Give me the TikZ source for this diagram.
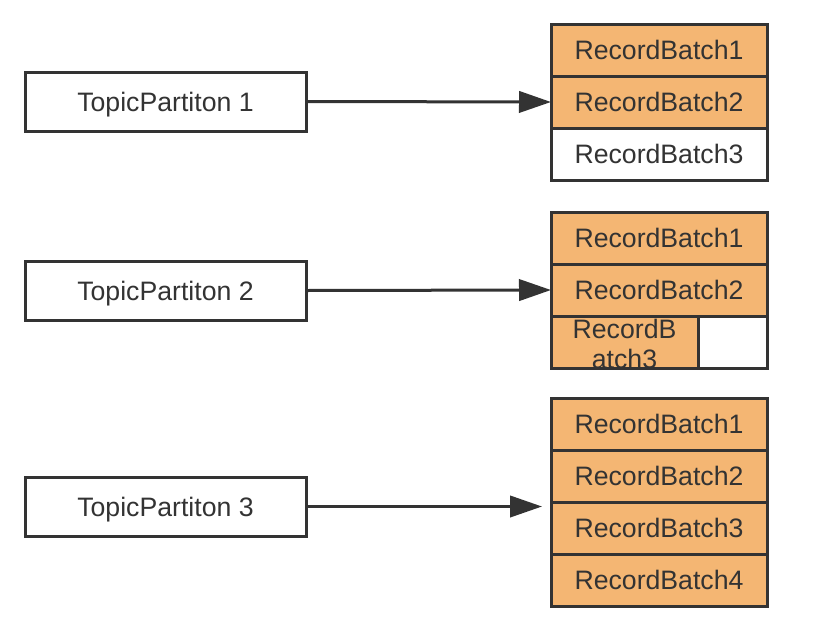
\documentclass[tikz,border=0pt]{standalone}
\usepackage{fontspec}
\setmainfont{Liberation Sans}
\usetikzlibrary{arrows.meta}
\definecolor{ink}{HTML}{333333}
\definecolor{batch}{HTML}{F4B673}
\begin{document}
\begin{tikzpicture}[x=0.75pt,y=-0.75pt,
  every node/.style={font=\fontsize{20}{22}\selectfont, text=ink, inner sep=0pt, outer sep=0pt},
  onel/.style={text height=14.5pt, text depth=0pt},
  topicbox/.style={onel, draw=ink, line width=2.25pt, minimum width=210.75pt, minimum height=44.25pt, fill=white},
  cellfull/.style={onel, draw=ink, line width=2.25pt, minimum width=162pt, minimum height=39pt},
  filled/.style={fill=batch},
  empty/.style={fill=white},
  conn/.style={draw=ink, line width=2.25pt, -{Triangle[length=24pt,width=16pt]}}
]
\useasboundingbox (0,0) rectangle (832,636);

% topic partitions
\node[topicbox] (t1) at (165.5,101.5) {TopicPartiton 1};
\node[topicbox] (t2) at (165.5,290.5) {TopicPartiton 2};
\node[topicbox] (t3) at (165.5,506.5) {TopicPartiton 3};

% stack 1
\node[cellfull,filled] (a1) at (659,50) {RecordBatch1};
\node[cellfull,filled] (a2) at (659,102) {RecordBatch2};
\node[cellfull,empty] (a3) at (659,154) {RecordBatch3};

% stack 2
\node[cellfull,filled] (b1) at (659,238) {RecordBatch1};
\node[cellfull,filled] (b2) at (659,290) {RecordBatch2};
\node[minimum width=110.25pt, minimum height=39pt, filled] (b3) at (624.5,342) {};
\node[minimum width=51.75pt, minimum height=39pt, empty] (b4) at (732.5,342) {};
\begin{scope}
  \clip (b3.south west) rectangle (b3.north east);
  \node[align=center] (b3t) at (624.5,344) {RecordB\\atch3};
\end{scope}
\draw[ink, line width=2.25pt] (b3.south west) rectangle (b3.north east);
\draw[ink, line width=2.25pt] (b4.south west) rectangle (b4.north east);

% stack 3
\node[cellfull,filled] (c1) at (659,424) {RecordBatch1};
\node[cellfull,filled] (c2) at (659,476) {RecordBatch2};
\node[cellfull,filled] (c3) at (659,528) {RecordBatch3};
\node[cellfull,filled] (c4) at (659,580) {RecordBatch4};

% connectors
\draw[conn] (t1.east) -- (a2.west);
\draw[conn] (t2.east) -- (b2.west);
\coordinate (c3in) at (t3.east -| c3.west);
\draw[conn, shorten >=6.75pt] (t3.east) -- (c3in);
\end{tikzpicture}
\end{document}
